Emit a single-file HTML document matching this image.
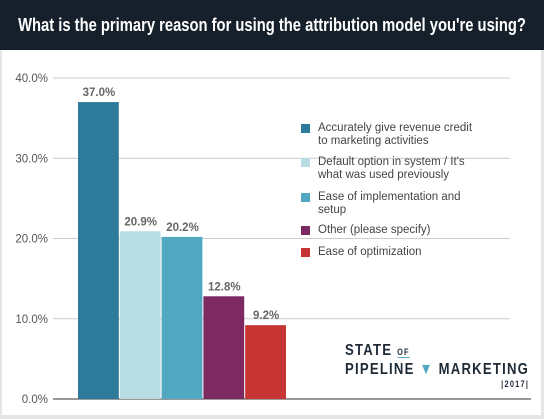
<!DOCTYPE html>
<html><head><meta charset="utf-8"><style>
body{margin:0;width:544px;height:419px;overflow:hidden;background:#e6e6e6;font-family:"Liberation Sans",sans-serif}
#hdr{position:absolute;left:0;top:0;width:544px;height:50px;background:#16202b}
#hdr span{position:absolute;left:50%;top:15px;white-space:nowrap;color:#fff;font:bold 18px "Liberation Sans",sans-serif;transform:translateX(-50%) scaleX(0.82);transform-origin:center}
#panel{position:absolute;left:2px;top:50px;width:539px;height:365px;background:#fff}
svg{position:absolute;left:0;top:0}
.lg{position:absolute;left:318px;font-size:11.5px;color:#444;line-height:13px;width:200px}
.sq{position:absolute;left:301px;width:9px;height:9px}
#logo{position:absolute;left:345px;top:342px;font:bold 16px "Liberation Sans",sans-serif;color:#1e2a36;letter-spacing:1.5px;line-height:18px;white-space:nowrap;transform:scaleX(0.82);transform-origin:left top}
</style></head><body>
<div id="hdr"><span>What is the primary reason for using the attribution model you're using?</span></div>
<div id="panel"></div>
<svg id="c" width="544" height="419"></svg>
<div class="sq" style="top:124px;background:#2e7a9a"></div>
<div class="lg" style="top:122px">Accurately give revenue credit<br>to marketing activities</div>
<div class="sq" style="top:158px;background:#b7dce3"></div>
<div class="lg" style="top:156px">Default option in system / It's<br>what was used previously</div>
<div class="sq" style="top:193px;background:#52a8c1"></div>
<div class="lg" style="top:191px">Ease of implementation and<br>setup</div>
<div class="sq" style="top:226px;background:#7c2a61"></div>
<div class="lg" style="top:224px">Other (please specify)</div>
<div class="sq" style="top:248px;background:#c73434"></div>
<div class="lg" style="top:246px">Ease of optimization</div>
<div id="logo">
<div>STATE <span style="font-size:9px;border-bottom:1px solid #52a8c1">OF</span></div>
<div>PIPELINE <span style="color:#52a8c1">▼</span> MARKETING</div>
<div style="font-size:9px;text-align:right;padding-right:0;line-height:11px">|2017|</div></div>
<script>
const categories=["Accurately give revenue credit","Default option","Ease of implementation","Other","Ease of optimization"];
const values=[37.0,20.9,20.2,12.8,9.2];
const colors=["#2e7a9a","#b7dce3","#52a8c1","#7c2a61","#c73434"];
const ticks=[0,10,20,30,40];
const ns="http://www.w3.org/2000/svg",svg=document.getElementById('c');
const y=v=>399-v*8.025, x0=78,bw=41.8;
function mk(t,a){const e=document.createElementNS(ns,t);for(const k in a)e.setAttribute(k,a[k]);svg.appendChild(e);return e;}
ticks.forEach(t=>{
 const l=mk('line',{x1:53,x2:t?510:531,y1:y(t),y2:y(t),stroke:t?'#ccc':'#333','stroke-width':1});
 
 
 const tx=mk('text',{x:48,y:y(t)+4,'text-anchor':'end','font-size':11.5,fill:'#555'});tx.textContent=t.toFixed(1)+'%';
 
 
});
values.forEach((v,i)=>{
 const r=mk('rect',{x:x0+i*bw,y:y(v),width:bw-1,height:399-y(v),fill:colors[i]});
 
 
 const t=mk('text',{x:x0+i*bw+bw/2,y:y(v)-6,'text-anchor':'middle','font-size':11.5,'font-weight':'bold',fill:'#666'});t.textContent=v.toFixed(1)+'%';
 
 
});
</script>
</body></html>
